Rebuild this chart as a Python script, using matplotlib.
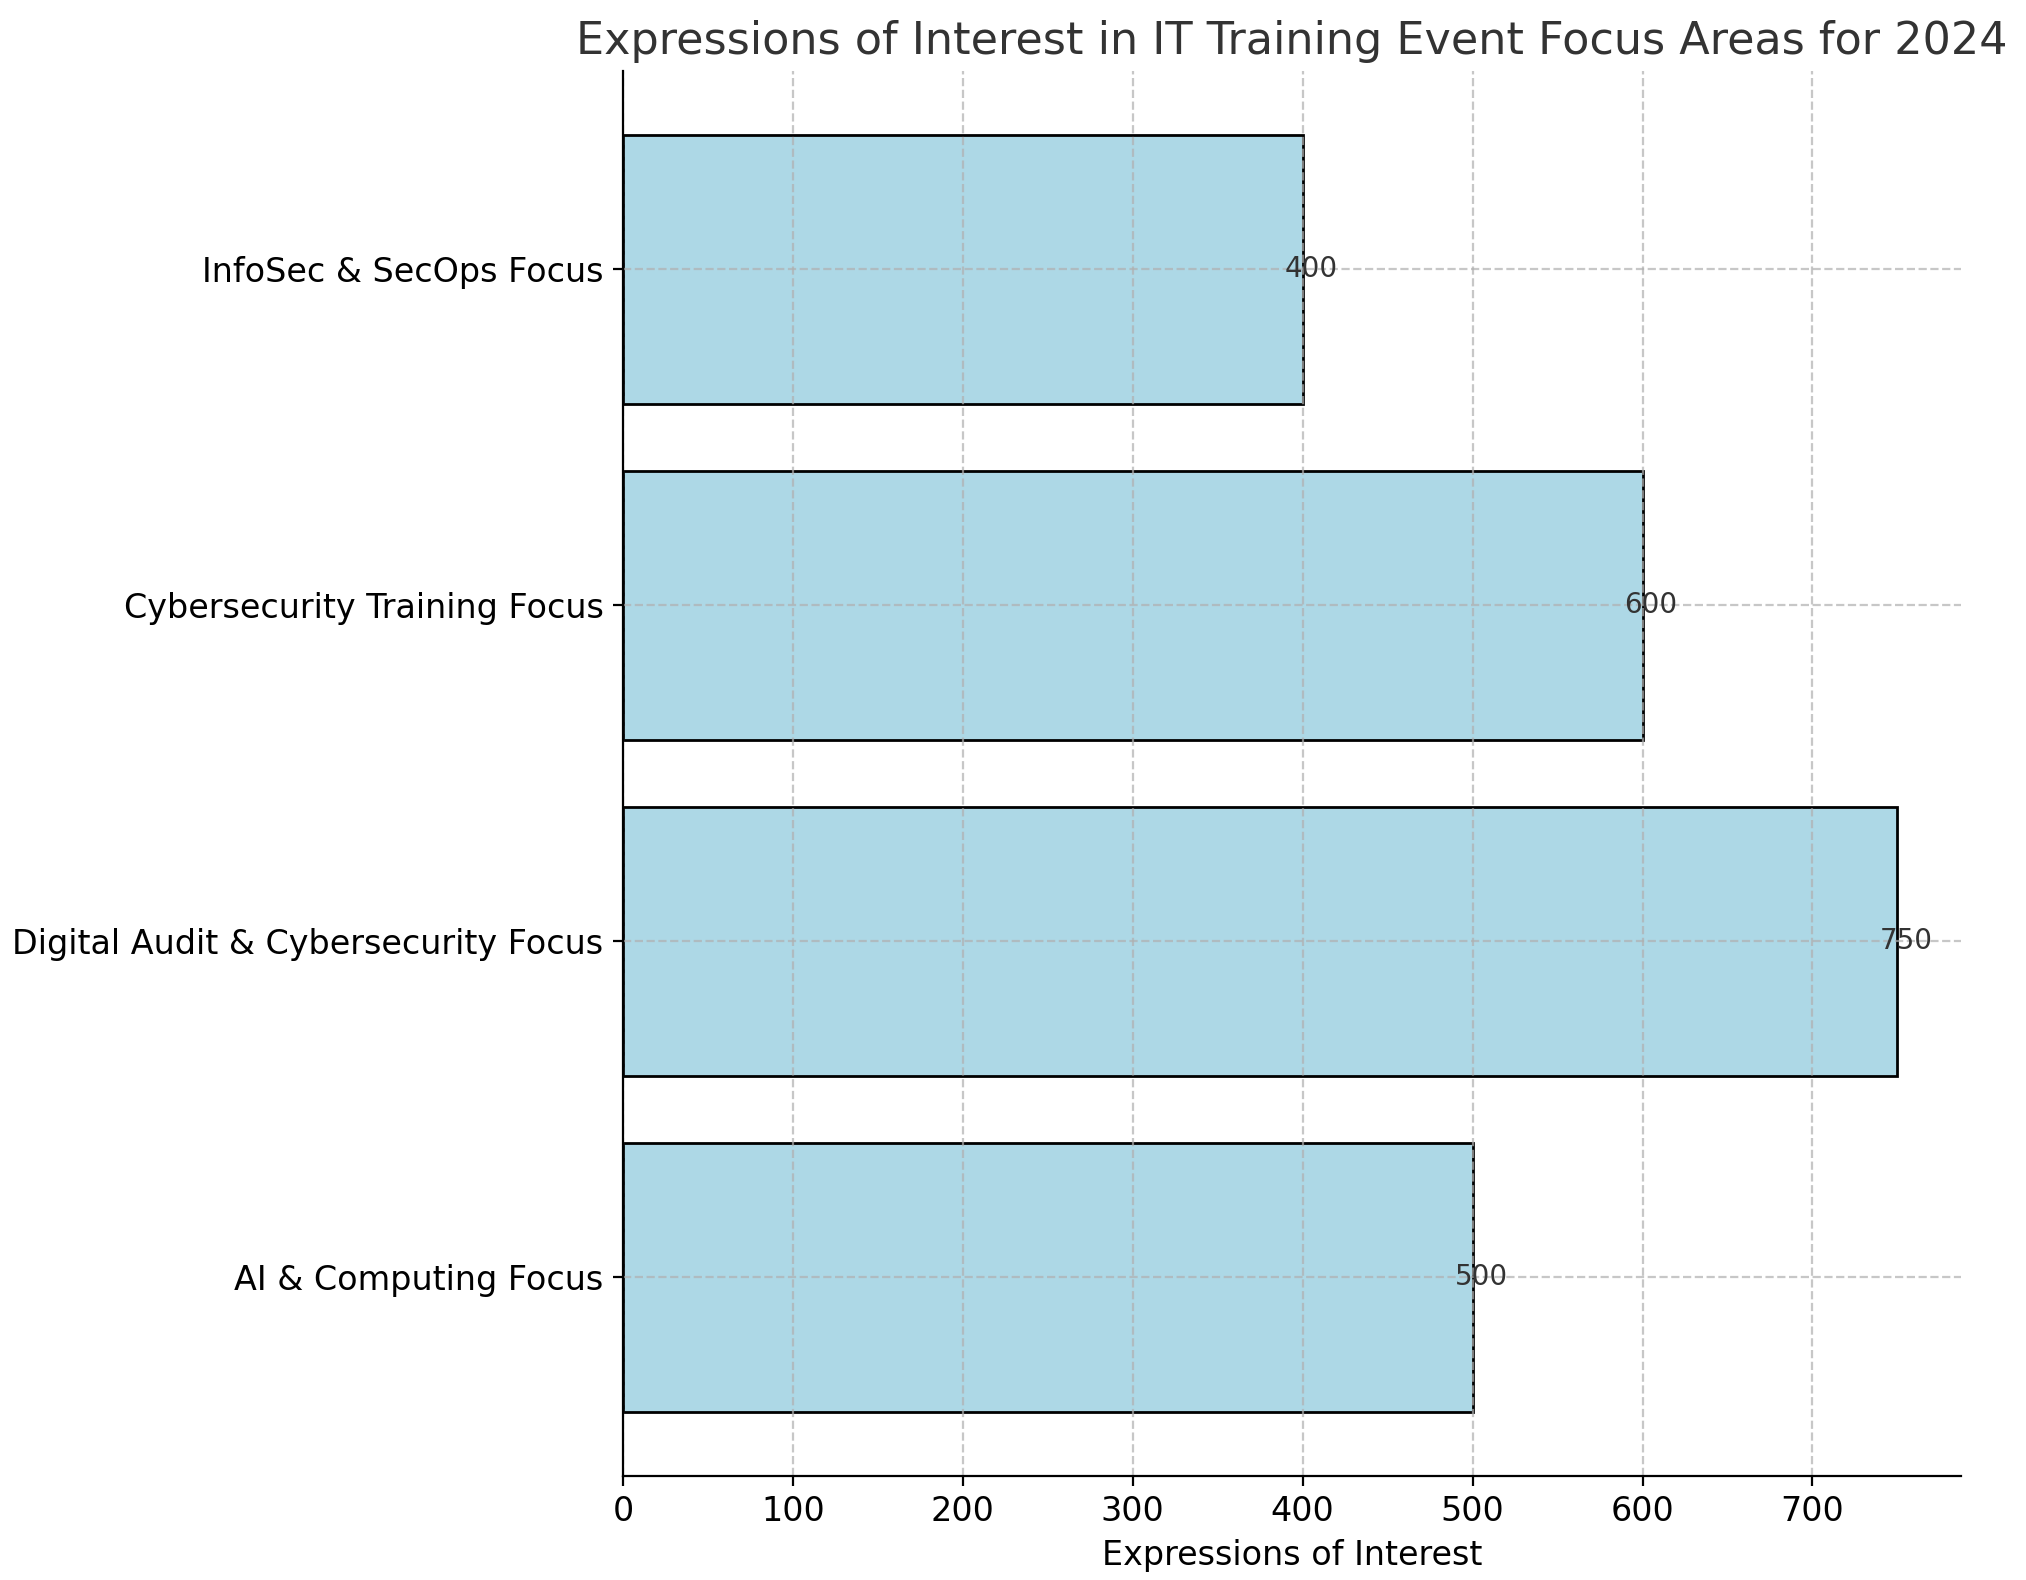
import matplotlib
matplotlib.use('Agg')
import matplotlib.pyplot as plt

focus_areas = ['AI & Computing Focus', 'Digital Audit & Cybersecurity Focus',
               'Cybersecurity Training Focus', 'InfoSec & SecOps Focus']
interest = [500, 750, 600, 400]

fig = plt.figure(figsize=(10.13, 7.9), dpi=200)
ax = fig.add_axes([0.3075, 0.066, 0.6605, 0.889])

bars = ax.barh(focus_areas, interest, color='lightblue', edgecolor='black')
for b in bars:
    w = b.get_width()
    ax.text(w + 5, b.get_y() + b.get_height() / 2, f'{w:.0f}',
            ha='center', va='center', fontsize=10, color='#333333')

ax.set_title('Expressions of Interest in IT Training Event Focus Areas for 2024',
             fontsize=16, color='#333333')
ax.set_xlabel('Expressions of Interest', fontsize=12)
ax.tick_params(labelsize=12)
ax.grid(True, linestyle='--', alpha=0.7)
ax.set_axisbelow(False)
ax.spines['top'].set_visible(False)
ax.spines['right'].set_visible(False)
for s in ('left', 'bottom'):
    ax.spines[s].set_zorder(5)

fig.savefig('out.png')
